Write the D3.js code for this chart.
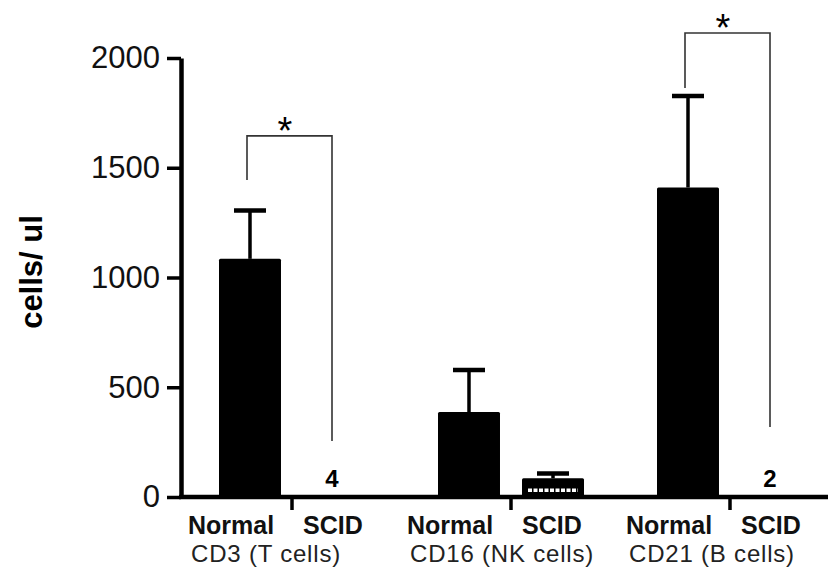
<!DOCTYPE html>
<html>
<head>
<meta charset="utf-8">
<script src="https://cdn.jsdelivr.net/npm/d3@7"></script>
<style>
  body { margin: 0; background: #fff; }
  svg { display: block; font-family: "Liberation Sans", Arial, Helvetica, sans-serif; }
</style>
</head>
<body>
<svg id="chart" width="828" height="571"></svg>
<script>
// values
const groups = ["CD3 (T cells)", "CD16 (NK cells)", "CD21 (B cells)"];
const conditions = ["Normal", "SCID"];
const normalMeans = [1085, 387, 1410];
const normalErr = [220, 192, 417];
const scidMeans = [4, 85, 2];
const scidErr = [0, 22, 0];
const scidLabels = ["4", "", "2"];
const yTicks = [0, 500, 1000, 1500, 2000];

// significance brackets (group index, top, left leg end, right leg end)
const sigGroups = [0, 2];
const sigTop = [1645, 2114];
const sigLeftEnd = [1444, 1863];
const sigRightEnd = [255, 319];

let svg = d3.select("#chart");
let width = 828;
let axisX = 181;

let y = d3.scaleLinear().domain([0, 2000]).range([497, 58]);
let x0 = d3.scaleBand().domain(groups).range([182.5, 839.5]).padding(0);
let x1 = d3.scaleBand().domain(conditions).range([0, x0.bandwidth()])
    .paddingInner(0.262).paddingOuter(0.4345);

let rows = groups.map((g, i) => {
    return [
        {group: g, cond: "Normal", value: normalMeans[i], err: normalErr[i], label: ""},
        {group: g, cond: "SCID", value: scidMeans[i], err: scidErr[i], label: scidLabels[i]}
    ];
}).flat();

let barX = d => x0(d.group) + x1(d.cond);
let barC = d => barX(d) + x1.bandwidth() / 2;

// bars
svg.append("g").selectAll("rect").data(rows).enter().append("rect")
    .attr("x", barX)
    .attr("y", d => y(d.value))
    .attr("width", x1.bandwidth())
    .attr("height", d => y(0) - y(d.value))
    .attr("fill", "#000")
    .attr("rx", 1.5);

// white dotted strip inside the small SCID bar
svg.append("g").selectAll("line").data(rows.filter(d => d.cond === "SCID" && d.value > 20)).enter().append("line")
    .attr("x1", d => barX(d) + 6)
    .attr("x2", d => barX(d) + x1.bandwidth() - 6)
    .attr("y1", d => y(d.value) + 12)
    .attr("y2", d => y(d.value) + 12)
    .attr("stroke", "#fff")
    .attr("stroke-width", 3.5)
    .attr("stroke-dasharray", "4,1.5");

// error bars (upper only)
let eb = svg.append("g").selectAll("g").data(rows.filter(d => d.err > 0)).enter().append("g");
eb.append("line")
    .attr("x1", barC).attr("x2", barC)
    .attr("y1", d => y(d.value)).attr("y2", d => y(d.value + d.err))
    .attr("stroke", "#000").attr("stroke-width", 3.5);
eb.append("line")
    .attr("x1", d => barC(d) - 16).attr("x2", d => barC(d) + 16)
    .attr("y1", d => y(d.value + d.err)).attr("y2", d => y(d.value + d.err))
    .attr("stroke", "#000").attr("stroke-width", 4.5);

// n labels above the empty SCID bars
svg.append("g").selectAll("text").data(rows.filter(d => d.label)).enter().append("text")
    .attr("x", d => barC(d) - 2)
    .attr("y", 487)
    .attr("text-anchor", "middle")
    .attr("font-size", 24)
    .attr("font-weight", "bold")
    .text(d => d.label);

// significance brackets
let sig = svg.append("g").selectAll("g").data(sigGroups).enter().append("g");
sig.append("path")
    .attr("d", (gi, i) => {
        let xl = x0(groups[gi]) + x1("Normal") + x1.bandwidth() / 2 - 3;
        let xr = x0(groups[gi]) + x1("SCID") + x1.bandwidth() / 2 - 2;
        return `M${xl},${y(sigLeftEnd[i])}V${y(sigTop[i])}H${xr}V${y(sigRightEnd[i])}`;
    })
    .attr("fill", "none")
    .attr("stroke", "#333")
    .attr("stroke-width", 1.6);
sig.append("text")
    .attr("x", gi => x0(groups[gi]) + x0.bandwidth() / 2 - 7)
    .attr("y", (gi, i) => y(sigTop[i]) + 8)
    .attr("text-anchor", "middle")
    .attr("font-size", 38)
    .text("*");

// y axis
let yAxis = svg.append("g").attr("transform", `translate(${axisX},0)`)
    .call(d3.axisLeft(y).tickValues(yTicks).tickFormat(d3.format("d"))
        .tickSize(14).tickSizeOuter(0).tickPadding(7));
yAxis.select(".domain").attr("stroke-width", 4.5);
yAxis.selectAll(".tick line").attr("stroke-width", 3.5);
yAxis.selectAll(".tick text").attr("font-size", 31).attr("font-family", "Liberation Sans, Arial, sans-serif")
    .attr("fill", "#111");

svg.append("text")
    .attr("transform", "translate(42,272) rotate(-90)")
    .attr("text-anchor", "middle")
    .attr("font-size", 31)
    .attr("font-weight", "bold")
    .text("cells/ ul");

// x axis
let xAxis = svg.append("g").attr("transform", `translate(0,${y(0)})`)
    .call(d3.axisBottom(x0).tickSize(13).tickSizeOuter(0).tickFormat(""));
xAxis.select(".domain").remove();
xAxis.selectAll(".tick line").attr("stroke-width", 3.5);
svg.append("line")
    .attr("x1", axisX - 2).attr("x2", width)
    .attr("y1", y(0)).attr("y2", y(0))
    .attr("stroke", "#000").attr("stroke-width", 4.5);

// condition labels
svg.append("g").selectAll("text").data(rows).enter().append("text")
    .attr("x", d => d.cond === "Normal" ? barX(d) - 31 : barX(d))
    .attr("y", 534)
    .attr("font-size", 25)
    .attr("font-weight", "bold")
    .attr("fill", "#111")
    .text(d => d.cond);

// group labels
svg.append("g").selectAll("text").data(groups).enter().append("text")
    .attr("x", g => x0(g) + x1("Normal") - 28)
    .attr("y", 562)
    .attr("font-size", 24)
    .attr("letter-spacing", "0.8")
    .attr("fill", "#222")
    .text(g => g);
</script>
</body>
</html>
